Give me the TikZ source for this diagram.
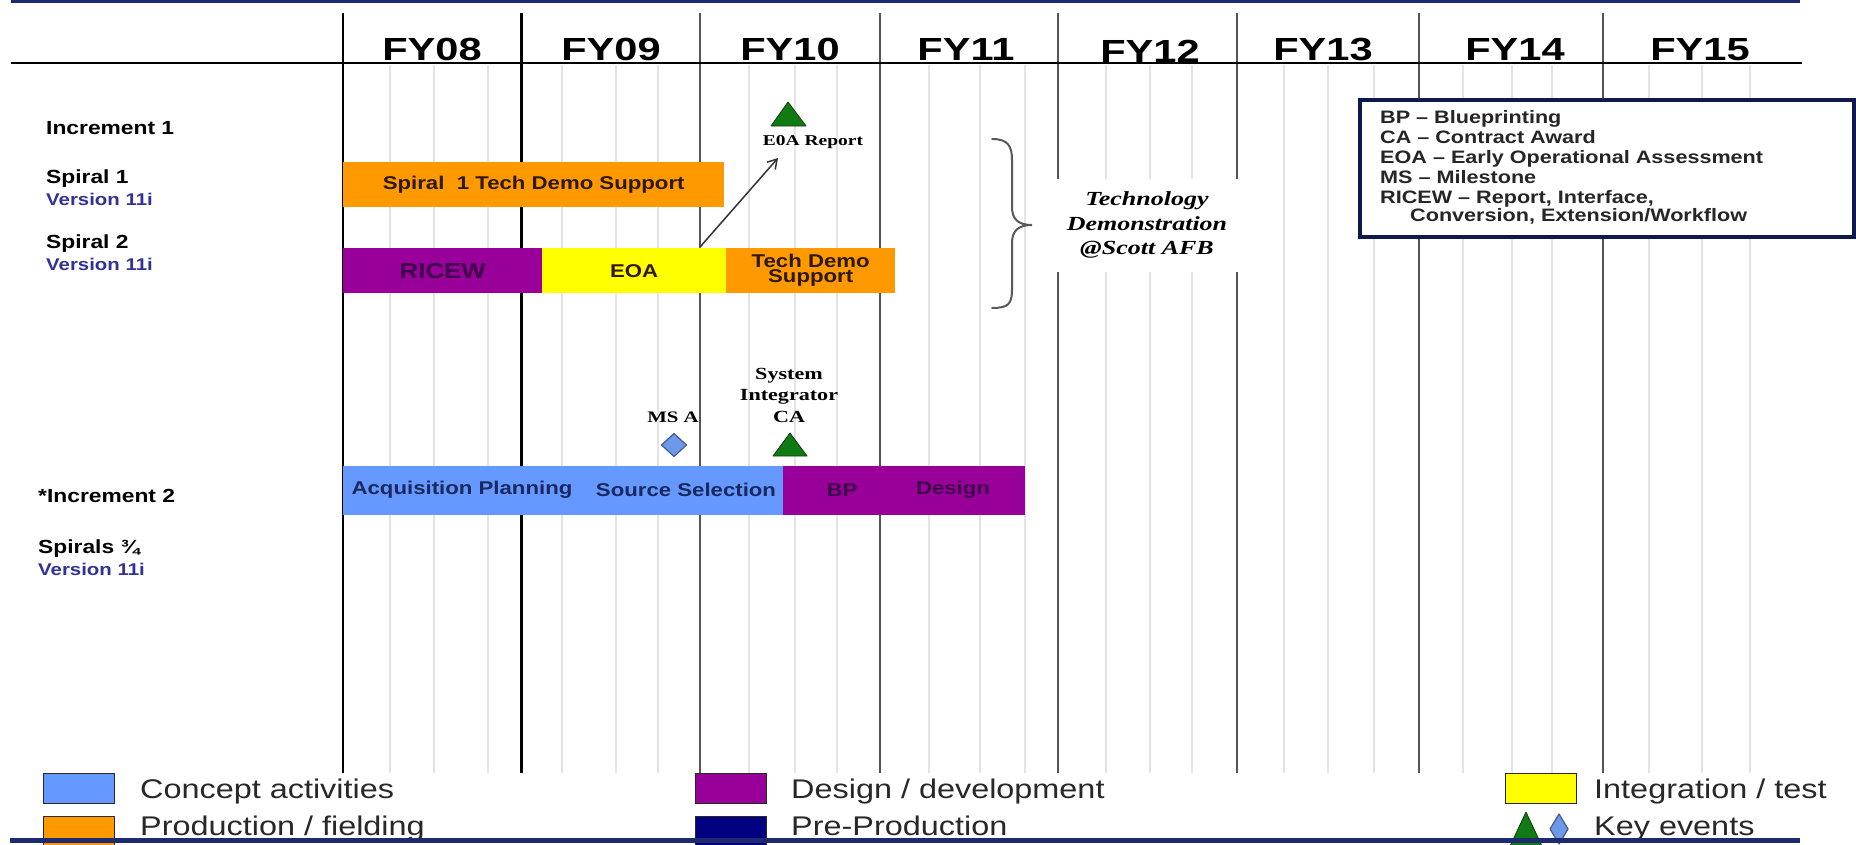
\documentclass[tikz,border=0pt]{standalone}
\usepackage{fontspec}
\setmainfont{Liberation Sans}
\newfontfamily\sansx[FakeStretch=1.2]{Liberation Sans}
\newfontfamily\yearx[FakeStretch=1.3]{Liberation Sans}
\newfontfamily\serifx[FakeStretch=1.3]{Liberation Serif}
\usetikzlibrary{arrows.meta}

\definecolor{navyline}{RGB}{30,42,112}
\definecolor{barorange}{RGB}{255,153,0}
\definecolor{barpurple}{RGB}{153,0,153}
\definecolor{baryellow}{RGB}{255,255,0}
\definecolor{barblue}{RGB}{102,153,255}
\definecolor{evgreen}{RGB}{18,122,18}
\definecolor{evgreendark}{RGB}{15,60,15}
\definecolor{evblue}{RGB}{110,152,232}
\definecolor{evbluedark}{RGB}{70,90,145}
\definecolor{prenavy}{RGB}{0,0,128}
\definecolor{verblue}{RGB}{50,50,150}
\definecolor{darkpurple}{RGB}{62,0,75}
\definecolor{darkbrown}{RGB}{45,25,5}
\definecolor{bluetext}{RGB}{25,40,95}
\definecolor{gridminor}{RGB}{228,228,228}
\definecolor{gridmajor}{RGB}{85,85,85}
\definecolor{boxnavy}{RGB}{15,25,75}
\definecolor{keygray}{RGB}{40,40,40}

\begin{document}
\begin{tikzpicture}[x=1pt,y=-1pt,
  minorgrid/.style={draw=gridminor, line width=1.1},
  majorgrid/.style={draw=gridmajor, line width=1.5},
  yearlbl/.style={anchor=base, inner sep=0, font=\yearx\bfseries\fontsize{32}{32}\selectfont},
  rowlbl/.style={anchor=base west, inner sep=0, font=\sansx\bfseries\fontsize{19}{19}\selectfont},
  verlbl/.style={anchor=base west, inner sep=0, text=verblue, font=\sansx\bfseries\fontsize{17}{17}\selectfont},
  barbox/.style={anchor=north west, inner sep=0, draw=none, align=center,
    font=\sansx\bfseries\fontsize{18.5}{15}\selectfont},
  bartxt/.style={inner sep=0, font=\sansx\bfseries\fontsize{18.5}{15}\selectfont},
  evtxt/.style={inner sep=0, align=center, font=\serifx\bfseries\fontsize{17}{21.5}\selectfont},
  evtri/.style={fill=evgreen, draw=evgreendark, line width=0.8, line join=round},
  evdia/.style={fill=evblue, draw=evbluedark, line width=1.2, line join=round},
  abbrev/.style={anchor=base west, inner sep=0, text=black!85, font=\sansx\bfseries\fontsize{18}{20}\selectfont},
  legsq/.style={anchor=north west, inner sep=0, draw=keygray, line width=1, minimum width=71, minimum height=30},
  keytxt/.style={anchor=base west, inner sep=0, text=keygray, font=\sansx\fontsize{27}{27}\selectfont}
]
\useasboundingbox (0,0) rectangle (1856,844);
\fill[white] (0,0) rectangle (1856,844);

% quarter gridlines
\foreach \x in {390,434,488,562,616,658,749,795,837,929,980,1025,1106,1150,1192,
                1284,1328,1374,1463,1512,1552,1649,1702,1750}
  \draw[minorgrid] (\x,65) -- (\x,773);

% fiscal-year boundaries
\foreach \x in {700,880,1058,1237,1419,1603}
  \draw[majorgrid] (\x,13) -- (\x,773);
\draw[black, line width=2.2] (343,13) -- (343,773);
\draw[black, line width=3] (521,13) -- (521,773);

% header rule and top rule
\draw[black, line width=2] (11,63) -- (1802,63);
\draw[navyline, line width=3.2] (11,1.5) -- (1800,1.5);

% year headings
\node[yearlbl] (fy08) at (432,60) {FY08};
\node[yearlbl] (fy09) at (611,60) {FY09};
\node[yearlbl] (fy10) at (790,60) {FY10};
\node[yearlbl] (fy11) at (966,60) {FY11};
\node[yearlbl] (fy12) at (1150,62) {FY12};
\node[yearlbl] (fy13) at (1323,60) {FY13};
\node[yearlbl] (fy14) at (1515,60) {FY14};
\node[yearlbl] (fy15) at (1700,60) {FY15};

% row labels
\node[rowlbl] (inc1) at (46,134) {Increment 1};
\node[rowlbl] (sp1) at (46,183) {Spiral 1};
\node[verlbl] (sp1v) at (46,205) {Version 11i};
\node[rowlbl] (sp2) at (46,248) {Spiral 2};
\node[verlbl] (sp2v) at (46,270) {Version 11i};
\node[rowlbl] (inc2) at (38,502) {*Increment 2};
\node[rowlbl] (sp34) at (38,553) {Spirals ¾};
\node[verlbl] (sp34v) at (38,575) {Version 11i};

% Increment 1 bars
\node[barbox, fill=barorange, text=darkbrown, minimum width=381, minimum height=45] (s1demo) at (343,162) {Spiral\ \ 1 Tech Demo Support};
\node[barbox, fill=barpurple, text=darkpurple, minimum width=199, minimum height=45,
      font=\sansx\bfseries\fontsize{21.5}{21.5}\selectfont] (ricew) at (343,248) {RICEW};
\node[barbox, fill=baryellow, text=darkbrown, minimum width=184, minimum height=45] (eoa) at (542,248) {EOA};
\node[barbox, fill=barorange, text=darkbrown, minimum width=169, minimum height=45] (tds) at (726,248) {Tech Demo\\Support};

% EOA report milestone
\draw[evtri] (788,102) -- (806,126) -- (771,126) -- cycle;
\coordinate (eoatri) at (788,116);
\node[evtxt, font=\serifx\bfseries\fontsize{15}{15}\selectfont, anchor=base] (eoarep) at (813,145) {E0A Report};
\coordinate (arrstart) at (700,247);
\coordinate (arrtip) at (778,158);
\draw[draw=black!80, line width=1.5, -{Straight Barb[length=9pt,width=11pt]}] (arrstart) -- (arrtip);

% bracket and technology demonstration note
\draw[draw=black!65, line width=2, line cap=round]
  (992,139) .. controls (1008,139) and (1012,146) .. (1012,160) -- (1012,207)
  .. controls (1012,219) and (1018,225) .. (1032,225)
  .. controls (1018,225) and (1012,231) .. (1012,243) -- (1012,290)
  .. controls (1012,304) and (1008,308) .. (992,308);
\node[fill=white, inner sep=0, minimum width=198, minimum height=93, align=center,
      font=\serifx\bfseries\itshape\fontsize{20}{24.5}\selectfont] (techdemo) at (1147,225)
  {Technology\\Demonstration\\@Scott AFB};

% Increment 2 bars
\node[barbox, fill=barblue, minimum width=440, minimum height=49] (acq) at (343,466) {};
\node[barbox, fill=barpurple, minimum width=242, minimum height=49] (bpd) at (783,466) {};
\node[bartxt, text=bluetext] (acqtxt) at (462,490) {Acquisition Planning};
\node[bartxt, text=bluetext] (srctxt) at (686,490) {Source Selection};
\node[bartxt, text=darkpurple] (bptxt) at (842,490) {BP};
\node[bartxt, text=darkpurple] (destxt) at (953,490) {Design};

% Increment 2 milestones
\draw[evdia] (674,433.5) -- (686.5,445) -- (674,456.5) -- (661.5,445) -- cycle;
\coordinate (msadia) at (674,445);
\node[evtxt, font=\serifx\bfseries\fontsize{16}{16}\selectfont, anchor=base] (msa) at (673,422) {MS A};
\draw[evtri] (790,433) -- (807,456) -- (773,456) -- cycle;
\coordinate (sitri) at (790,448);
\node[evtxt] (sica) at (789,395) {System\\Integrator\\CA};

% abbreviation box
\node[anchor=north west, draw=boxnavy, line width=4, fill=white, inner sep=0,
      minimum width=494, minimum height=137] (abbrbox) at (1358,98) {};
\node[abbrev] (ab1) at (1380,123) {BP – Blueprinting};
\node[abbrev] (ab2) at (1380,143) {CA – Contract Award};
\node[abbrev] (ab3) at (1380,163) {EOA – Early Operational Assessment};
\node[abbrev] (ab4) at (1380,183) {MS – Milestone};
\node[abbrev] (ab5) at (1380,203) {RICEW – Report, Interface,};
\node[abbrev] (ab6) at (1410,221) {Conversion, Extension/Workflow};

% colour key
\node[legsq, fill=barblue] (kblue) at (43,773) {};
\node[keytxt] (kbluet) at (140,798) {Concept activities};
\node[legsq, fill=barorange] (korange) at (43,816) {};
\node[keytxt] (koranget) at (140,835) {Production / fielding};
\node[legsq, fill=barpurple] (kpurple) at (695,773) {};
\node[keytxt] (kpurplet) at (791,798) {Design / development};
\node[legsq, fill=prenavy] (knavy) at (695,816) {};
\node[keytxt] (knavyt) at (791,835) {Pre-Production};
\node[legsq, fill=baryellow] (kyellow) at (1505,773) {};
\node[keytxt] (kyellowt) at (1594,798) {Integration / test};
\draw[evtri] (1526,812) -- (1542,846) -- (1510,846) -- cycle;
\draw[evdia] (1559,814) -- (1568,829) -- (1559,844) -- (1550,829) -- cycle;
\node[keytxt] (kevt) at (1594,835) {Key events};

% bottom rule
\draw[navyline, line width=5] (10,840.5) -- (1800,840.5);
\end{tikzpicture}
\end{document}
